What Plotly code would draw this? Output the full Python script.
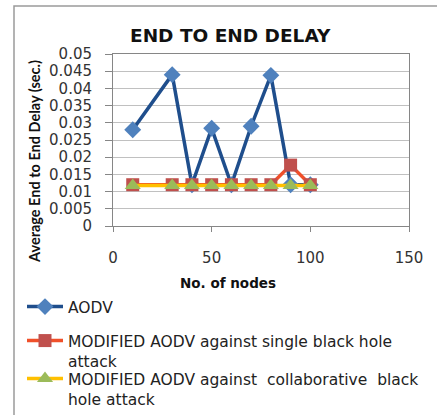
import plotly.graph_objects as go

nodes = [10, 30, 40, 50, 60, 70, 80, 90, 100]
aodv = [0.028, 0.044, 0.012, 0.0284, 0.012, 0.029, 0.0438, 0.012, 0.012]
single = [0.012, 0.012, 0.012, 0.012, 0.012, 0.012, 0.012, 0.0177, 0.012]
collab = [0.0118, 0.0118, 0.0118, 0.0118, 0.0118, 0.0118, 0.0118, 0.0118, 0.0118]

names = [
    "AODV",
    "MODIFIED AODV against single black hole<br>attack",
    "MODIFIED AODV against  collaborative  black<br>hole attack",
]

W, H = 437, 415
L, R, T, B = 113, 409, 54, 226

def px(x):
    return (x - L) / (R - L)

def py(y):
    return (B - y) / (B - T)

fig = go.Figure()
fig.add_trace(go.Scatter(x=nodes, y=aodv, name=names[0], mode="lines+markers",
                         legend="legend",
                         line=dict(color="#1F4E8C", width=3.5),
                         marker=dict(symbol="diamond", size=13, color="#4F81BD")))
fig.add_trace(go.Scatter(x=nodes, y=single, name=names[1], mode="lines+markers",
                         legend="legend2",
                         line=dict(color="#F0502A", width=3.5),
                         marker=dict(symbol="square", size=13, color="#C0504D")))
fig.add_trace(go.Scatter(x=nodes, y=collab, name=names[2], mode="lines+markers",
                         legend="legend3",
                         line=dict(color="#FFC000", width=3.5),
                         marker=dict(symbol="triangle-up", size=14, color="#9BBB59")))

tick_font = dict(family="DejaVu Sans", size=15, color="#333333")
leg_font = dict(family="DejaVu Sans", size=15.5, color="#222222")

def legend_at(ytop):
    return dict(x=px(22), y=py(ytop), xanchor="left", yanchor="top",
                font=leg_font, valign="top", itemwidth=36,
                bgcolor="rgba(0,0,0,0)")

fig.update_layout(
    width=W, height=H,
    margin=dict(l=L, r=W - R, t=T, b=H - B, autoexpand=False),
    paper_bgcolor="white", plot_bgcolor="white",
    showlegend=True,
    legend=legend_at(290),
    legend2=legend_at(324),
    legend3=legend_at(362),
    xaxis=dict(
        range=[0, 150], tickvals=[0, 50, 100, 150], showgrid=False,
        showline=True, linecolor="#868686", linewidth=1, mirror=True,
        ticks="outside", ticklen=5, tickcolor="#868686",
        tickfont=tick_font, ticklabelstandoff=13, zeroline=False,
    ),
    yaxis=dict(
        range=[0, 0.05], dtick=0.005, tick0=0, showgrid=True, gridcolor="#C0C0C0",
        showline=True, linecolor="#868686", linewidth=1, mirror=True,
        ticks="outside", ticklen=7, tickcolor="#868686",
        tickfont=tick_font, ticklabelstandoff=10, zeroline=False,
        tickformat="~g",
    ),
    annotations=[
        dict(text="<b>END TO END DELAY</b>", xref="paper", yref="paper",
             x=px(230), y=py(35), showarrow=False, xanchor="center", yanchor="middle",
             font=dict(family="DejaVu Sans", size=18.5, color="#111111")),
        dict(text="<b>Average End to End Delay (sec.)</b>", xref="paper", yref="paper",
             x=px(34), y=py(162), showarrow=False, textangle=-90,
             xanchor="center", yanchor="middle",
             font=dict(family="Lato", size=14.5, color="#111111")),
        dict(text="<b>No. of nodes</b>", xref="paper", yref="paper",
             x=px(228), y=py(283), showarrow=False, xanchor="center", yanchor="middle",
             font=dict(family="DejaVu Sans", size=13.5, color="#111111")),
    ],
    shapes=[
        dict(type="rect", xref="paper", yref="paper",
             x0=px(14), y0=py(430), x1=px(450), y1=py(6),
             line=dict(color="#9A9A9A", width=1.5), fillcolor="rgba(0,0,0,0)", layer="below"),
    ],
)

fig.write_html("out.html")
